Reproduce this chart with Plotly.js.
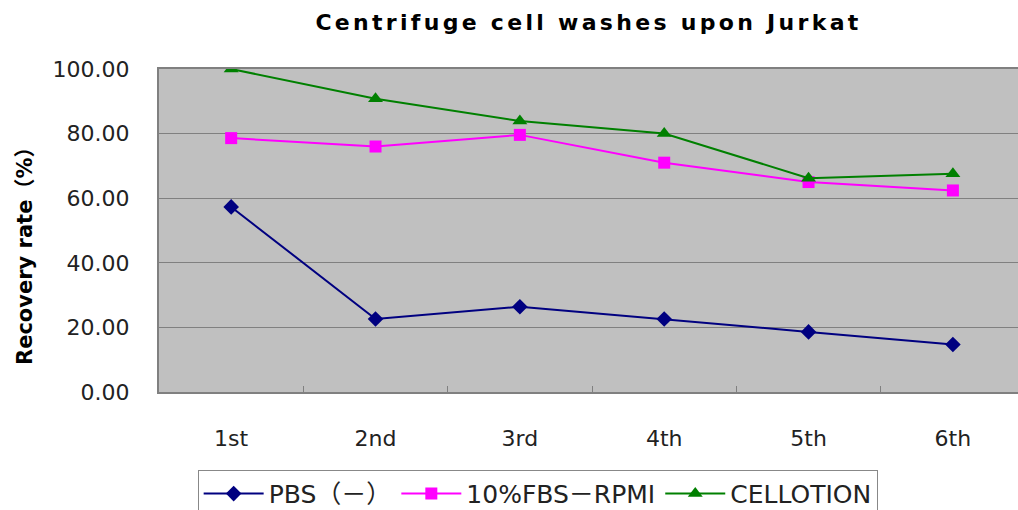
<!DOCTYPE html>
<html>
<head>
<meta charset="utf-8">
<script src="https://cdn.plot.ly/plotly-3.0.1.min.js"></script>
<style>
html,body{margin:0;padding:0;background:#fff;}
#chart{width:1018px;height:510px;}
.gtitle{letter-spacing:3.3px;}
</style>
</head>
<body>
<div id="chart"></div>
<script>
const categories = ["1st", "2nd", "3rd", "4th", "5th", "6th"];
const pbs = [57.3, 22.6, 26.4, 22.6, 18.6, 14.7];
const fbs = [78.6, 76.0, 79.6, 71.0, 65.0, 62.4];
const cellotion = [100.0, 90.8, 83.9, 80.0, 66.2, 67.6];
const seriesNames = ["PBS（－）", "10%FBS－RPMI", "CELLOTION"];
const yTicks = [0, 20, 40, 60, 80, 100];
const yTickText = ["0.00", "20.00", "40.00", "60.00", "80.00", "100.00"];

const font = "'DejaVu Sans', 'Noto Sans CJK JP', sans-serif";

const traces = [
  {x: categories, y: pbs, name: seriesNames[0], type: 'scatter', mode: 'lines+markers',
   line: {color: '#000080', width: 2}, marker: {symbol: 'diamond', size: 12, color: '#000080'}},
  {x: categories, y: fbs, name: seriesNames[1], type: 'scatter', mode: 'lines+markers',
   line: {color: '#FF00FF', width: 2}, marker: {symbol: 'square', size: 12, color: '#FF00FF'}},
  {x: categories, y: cellotion, name: seriesNames[2], type: 'scatter', mode: 'lines+markers',
   line: {color: '#008000', width: 2}, marker: {symbol: 'triangle-up', size: 13, color: '#008000'}}
];

const layout = {
  width: 1018, height: 510,
  margin: {l: 159, r: 0, t: 69, b: 118, pad: 0, autoexpand: false},
  paper_bgcolor: '#ffffff',
  plot_bgcolor: '#C0C0C0',
  font: {family: font, size: 21, color: '#222'},
  title: {text: 'Centrifuge cell washes upon Jurkat', x: 0.5, xref: 'paper', y: 0.957, yanchor: 'middle',
          font: {family: font, size: 22, color: '#000', weight: 'bold'}},
  showlegend: true,
  legend: {orientation: 'h', x: 0.045, xanchor: 'left', y: -0.241, yanchor: 'top',
           bgcolor: '#ffffff', bordercolor: '#888', borderwidth: 1,
           font: {family: font, size: 25, color: '#222'}, itemwidth: 60, tracegroupgap: 0},
  xaxis: {type: 'category', range: [-0.5, 5.451], showgrid: false, zeroline: false,
          showline: true, linecolor: '#808080', linewidth: 2, mirror: true,
          ticks: 'inside', ticklen: 6, tickcolor: '#808080', tickson: 'boundaries',
          ticklabelstandoff: 26, tickfont: {family: font, size: 22, color: '#222'}},
  yaxis: {range: [0, 100], tickvals: yTicks, ticktext: yTickText, showgrid: true,
          gridcolor: '#808080', gridwidth: 1, zeroline: false,
          showline: true, linecolor: '#808080', linewidth: 2,
          ticks: '', ticklabelstandoff: 23, tickfont: {family: font, size: 22, color: '#222'}},
  annotations: [{text: 'Recovery rate（%）', textangle: -90, xref: 'paper', yref: 'paper',
                 x: -0.156, y: 0.4365, xanchor: 'center', yanchor: 'middle', showarrow: false,
                 font: {family: font, size: 21, color: '#000', weight: 'bold'}}]
};

Plotly.newPlot('chart', traces, layout, {displayModeBar: false, staticPlot: true});
</script>
</body>
</html>
